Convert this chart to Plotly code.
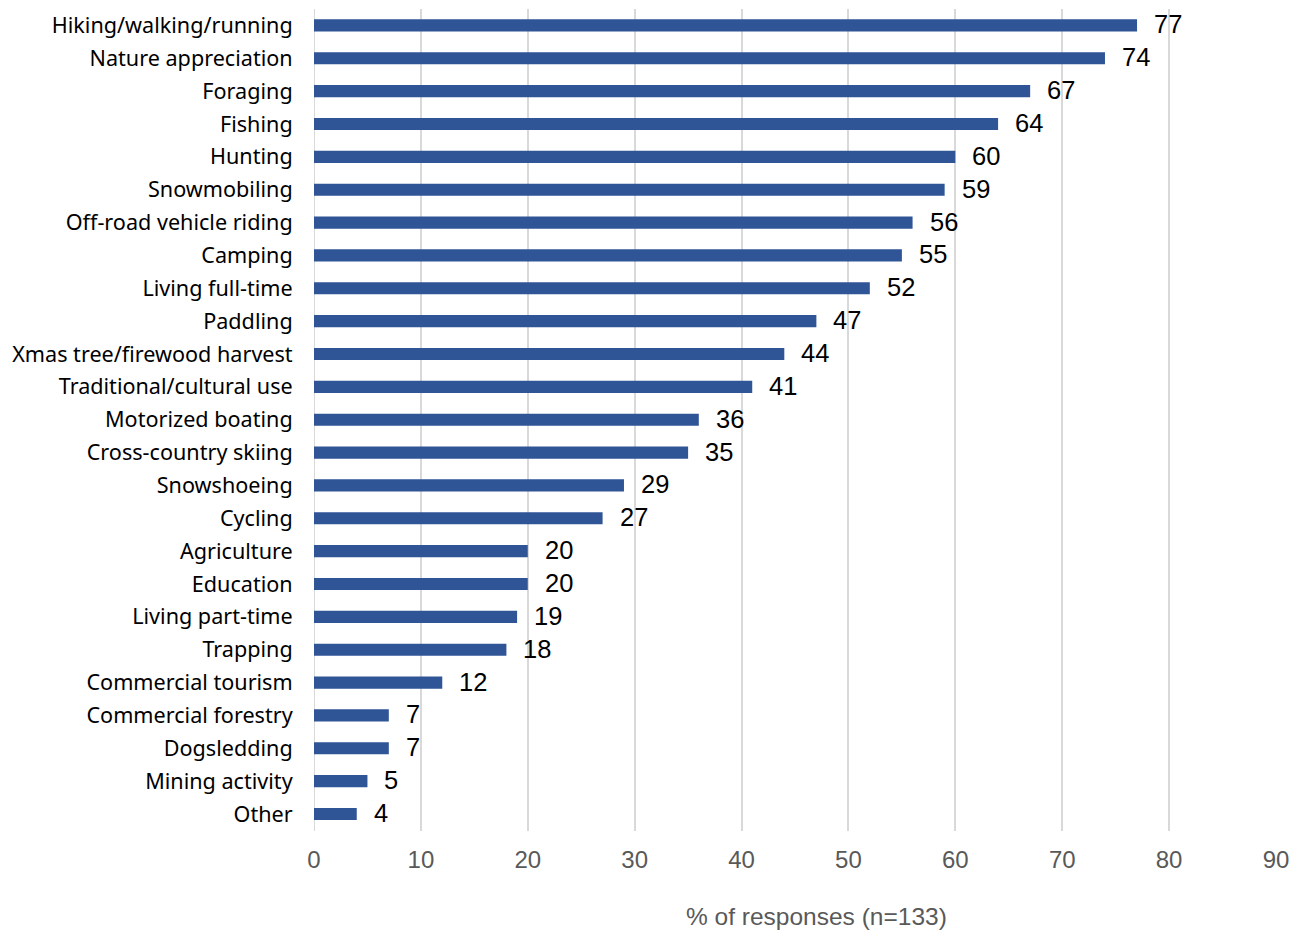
import plotly.graph_objects as go

categories = ["Hiking/walking/running", "Nature appreciation", "Foraging", "Fishing", "Hunting",
              "Snowmobiling", "Off-road vehicle riding", "Camping", "Living full-time", "Paddling",
              "Xmas tree/firewood harvest", "Traditional/cultural use", "Motorized boating",
              "Cross-country skiing", "Snowshoeing", "Cycling", "Agriculture", "Education",
              "Living part-time", "Trapping", "Commercial tourism", "Commercial forestry",
              "Dogsledding", "Mining activity", "Other"]
values = [77, 74, 67, 64, 60, 59, 56, 55, 52, 47, 44, 41, 36, 35, 29, 27, 20, 20, 19, 18, 12, 7, 7, 5, 4]
tick_vals = [0, 10, 20, 30, 40, 50, 60, 70, 80, 90]

fig = go.Figure()
fig.add_trace(go.Bar(
    x=values, y=categories, orientation="h",
    marker=dict(color="#2F5597", line=dict(width=0)),
    width=0.37,
))

for c, v in zip(categories, values):
    fig.add_annotation(x=v, y=c, text=str(v), showarrow=False, xanchor="left",
                       xshift=15, yshift=1,
                       font=dict(family="Liberation Sans, Arial", size=25.5, color="#000000"))

fig.add_annotation(text="% of responses (n=133)", showarrow=False,
                   xref="x domain", yref="y domain",
                   x=(816 - 314) / (1276 - 314), y=-(917 - 831.5) / (831.5 - 8.5),
                   xanchor="center", yanchor="middle",
                   font=dict(family="Liberation Sans, Arial", size=24.5, color="#595959"))

fig.update_layout(
    width=1301, height=930,
    margin=dict(l=314, r=25, t=8.5, b=98.5, pad=0),
    plot_bgcolor="white", paper_bgcolor="white",
    showlegend=False,
    xaxis=dict(range=[0, 90], tickvals=tick_vals, showgrid=True, gridcolor="#D9D9D9", gridwidth=2,
               zeroline=False, showline=False,
               tickfont=dict(family="Liberation Sans, Arial", size=24, color="#595959"),
               ticks="outside", ticklen=7, tickcolor="rgba(0,0,0,0)", fixedrange=True),
    yaxis=dict(autorange="reversed", categoryorder="array", categoryarray=categories,
               tickfont=dict(family="Noto Sans", size=21.6, color="#000000"),
               ticks="outside", ticklen=16, tickcolor="rgba(0,0,0,0)", showgrid=False),
)
fig.add_shape(type="line", xref="x", yref="paper", x0=0, x1=0, y0=0, y1=1,
              line=dict(color="#D9D9D9", width=2), layer="below")

fig.write_html("out.html")
